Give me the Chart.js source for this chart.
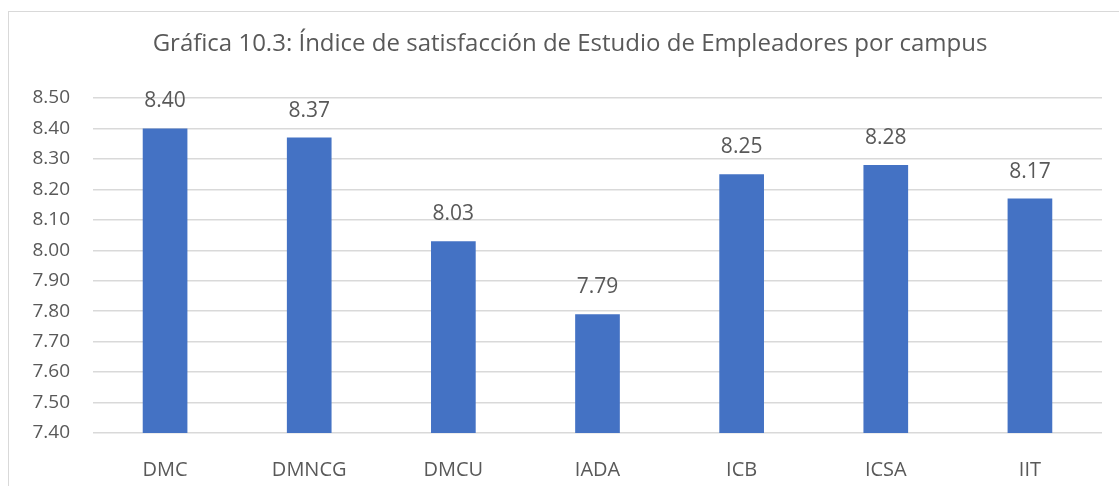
<!DOCTYPE html>
<html>
<head>
<meta charset="utf-8">
<script src="https://cdn.jsdelivr.net/npm/chart.js@4/dist/chart.umd.min.js"></script>
<style>
  html, body { margin: 0; padding: 0; background: #fff; overflow: hidden; }
  #wrap { position: relative; width: 1119px; height: 486px; overflow: hidden; }
  #frame { position: absolute; left: 8px; top: 11px; width: 1200px; height: 600px; border: 1.5px solid #d9d9d9; box-sizing: border-box; }
  #mycanvas { position: absolute; left: 0; top: 0; }
</style>
</head>
<body>
<div id="wrap">
  <div id="frame"></div>
  <canvas id="mycanvas" width="1119" height="486"></canvas>
</div>
<script>
// datos de la gráfica
var campus = ["DMC", "DMNCG", "DMCU", "IADA", "ICB", "ICSA", "IIT"];
var indice = [8.40, 8.37, 8.03, 7.79, 8.25, 8.28, 8.17];
var yMin = 7.40;
var yMax = 8.50;
var yStep = 0.10;
var titulo = "Gráfica 10.3: Índice de satisfacción de Estudio de Empleadores por campus";

var fontFamily = "'Open Sans', 'Noto Sans', sans-serif";
var gris = "#595959";

// titulo centrado sobre el marco completo (no solo el area del grafico)
var tituloPlugin = {
  id: "tituloPlugin",
  afterDraw: function(chart) {
    var ctx = chart.ctx;
    ctx.save();
    ctx.font = "24px " + fontFamily;
    ctx.fillStyle = gris;
    ctx.textAlign = "center";
    ctx.textBaseline = "middle";
    ctx.fillText(titulo, 570, 44);
    ctx.restore();
  }
};

// etiquetas encima de cada barra
var barLabels = {
  id: "barLabels",
  afterDatasetsDraw: function(chart) {
    var ctx = chart.ctx;
    var meta = chart.getDatasetMeta(0);
    ctx.save();
    ctx.font = "21px " + fontFamily;
    ctx.fillStyle = gris;
    ctx.textAlign = "center";
    ctx.textBaseline = "alphabetic";
    meta.data.forEach(function(bar, i) {
      ctx.fillText(indice[i].toFixed(2), bar.x, bar.y - 21);
    });
    ctx.restore();
  }
};

var chartdata = {
  labels: campus,
  datasets: [
    {
      label: "Índice",
      data: indice,
      backgroundColor: "#4472C4",
      borderWidth: 0,
      categoryPercentage: 1.0,
      barPercentage: 0.31
    }
  ]
};

var ctx = document.getElementById("mycanvas");
var graph = new Chart(ctx, {
  type: "bar",
  data: chartdata,
  plugins: [barLabels, tituloPlugin],
  options: {
    responsive: false,
    animation: false,
    layout: { padding: { left: 0, right: 17, top: 98, bottom: 0 } },
    plugins: {
      legend: { display: false },
      tooltip: { enabled: false },
      title: { display: false }
    },
    scales: {
      x: {
        grid: { display: false },
        border: { display: false },
        ticks: {
          color: gris,
          padding: 17,
          font: { family: fontFamily, size: 20 }
        },
        afterFit: function(scale) { scale.height = 53; }
      },
      y: {
        min: yMin,
        max: yMax,
        border: { display: false },
        grid: { color: "#d9d9d9", lineWidth: 1.5, drawTicks: false },
        ticks: {
          stepSize: yStep,
          color: gris,
          padding: 23,
          font: { family: fontFamily, size: 19 },
          callback: function(v) { return Number(v).toFixed(2); }
        },
        afterFit: function(scale) { scale.width = 93; }
      }
    }
  }
});
</script>
</body>
</html>
